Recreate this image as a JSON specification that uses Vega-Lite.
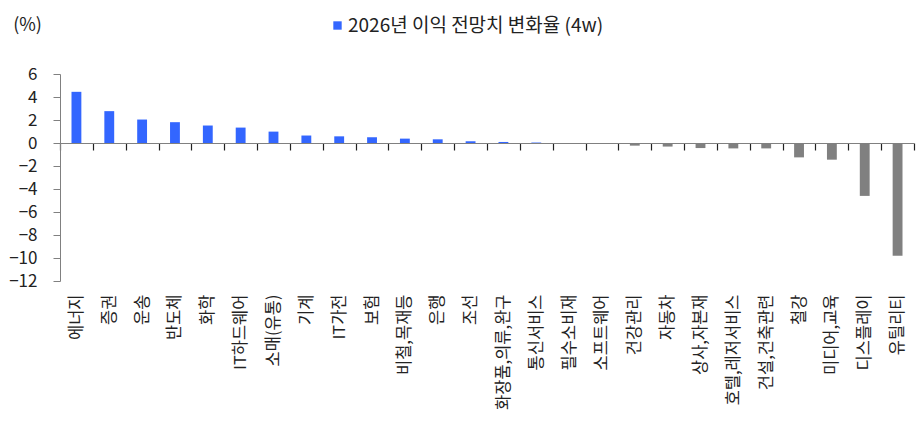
{
  "$schema": "https://vega.github.io/schema/vega-lite/v6.json",
  "autosize": {"type": "none"},
  "width": 854,
  "height": 207,
  "padding": {"left": 60, "top": 74, "right": 6, "bottom": 152},
  "background": "white",
  "config": {
    "view": {"stroke": null},
    "font": "Noto Sans CJK KR",
    "axis": {"labelFont": "Noto Sans CJK KR", "titleFont": "Noto Sans CJK KR"},
    "legend": {"labelFont": "Noto Sans CJK KR"}
  },
  "data": {
    "values": [
      {"업종": "에너지", "변화율": 4.45},
      {"업종": "증권", "변화율": 2.77},
      {"업종": "운송", "변화율": 2.04},
      {"업종": "반도체", "변화율": 1.81},
      {"업종": "화학", "변화율": 1.52},
      {"업종": "IT하드웨어", "변화율": 1.34},
      {"업종": "소매(유통)", "변화율": 0.99},
      {"업종": "기계", "변화율": 0.65},
      {"업종": "IT가전", "변화율": 0.58},
      {"업종": "보험", "변화율": 0.5},
      {"업종": "비철,목재등", "변화율": 0.38},
      {"업종": "은행", "변화율": 0.32},
      {"업종": "조선", "변화율": 0.15},
      {"업종": "화장품,의류,완구", "변화율": 0.09},
      {"업종": "통신서비스", "변화율": 0.04},
      {"업종": "필수소비재", "변화율": -0.02},
      {"업종": "소프트웨어", "변화율": -0.05},
      {"업종": "건강관리", "변화율": -0.23},
      {"업종": "자동차", "변화율": -0.31},
      {"업종": "상사,자본재", "변화율": -0.44},
      {"업종": "호텔,레저서비스", "변화율": -0.47},
      {"업종": "건설,건축관련", "변화율": -0.47},
      {"업종": "철강", "변화율": -1.25},
      {"업종": "미디어,교육", "변화율": -1.45},
      {"업종": "디스플레이", "변화율": -4.6},
      {"업종": "유틸리티", "변화율": -9.8}
    ]
  },
  "mark": {"type": "bar", "width": {"band": 0.3}},
  "encoding": {
    "x": {
      "field": "업종",
      "type": "nominal",
      "sort": null,
      "scale": {"paddingInner": 0, "paddingOuter": 0},
      "axis": {
        "title": null,
        "offset": -138,
        "ticks": true,
        "tickBand": "extent",
        "tickSize": 7,
        "tickWidth": 1.2,
        "tickColor": "#222222",
        "tickOpacity": 1,
        "domainColor": "#808080",
        "domainWidth": 1.2,
        "labelAngle": -90,
        "labelPadding": 144,
        "labelFontSize": 16.5,
        "labelColor": "#222222",
        "labelOverlap": false,
        "labelLimit": 300
      }
    },
    "y": {
      "field": "변화율",
      "type": "quantitative",
      "scale": {"domain": [-12, 6], "nice": false, "zero": false},
      "axis": {
        "values": [-12, -10, -8, -6, -4, -2, 0, 2, 4, 6],
        "grid": false,
        "tickSize": 7,
        "tickColor": "#808080",
        "domainColor": "#808080",
        "labelPadding": 16,
        "labelFontSize": 17,
        "labelColor": "#222222",
        "title": "(%)",
        "titleAngle": 0,
        "titleAlign": "center",
        "titleBaseline": "alphabetic",
        "titleX": -33,
        "titleY": -44,
        "titleFontSize": 18,
        "titleFontWeight": "normal",
        "titleColor": "#222222"
      }
    },
    "color": {
      "condition": {"test": "datum['변화율'] < 0", "value": "#808080"},
      "datum": "2026년 이익 전망치 변화율 (4w)",
      "type": "nominal",
      "scale": {"range": ["#3366ff"]},
      "legend": {
        "title": null,
        "orient": "none",
        "legendX": 268,
        "legendY": -58,
        "padding": 0,
        "symbolType": "square",
        "symbolSize": 70,
        "symbolStrokeWidth": 0,
        "labelOffset": 1,
        "labelFontSize": 19,
        "labelColor": "#222222",
        "labelLimit": 400
      }
    }
  }
}
